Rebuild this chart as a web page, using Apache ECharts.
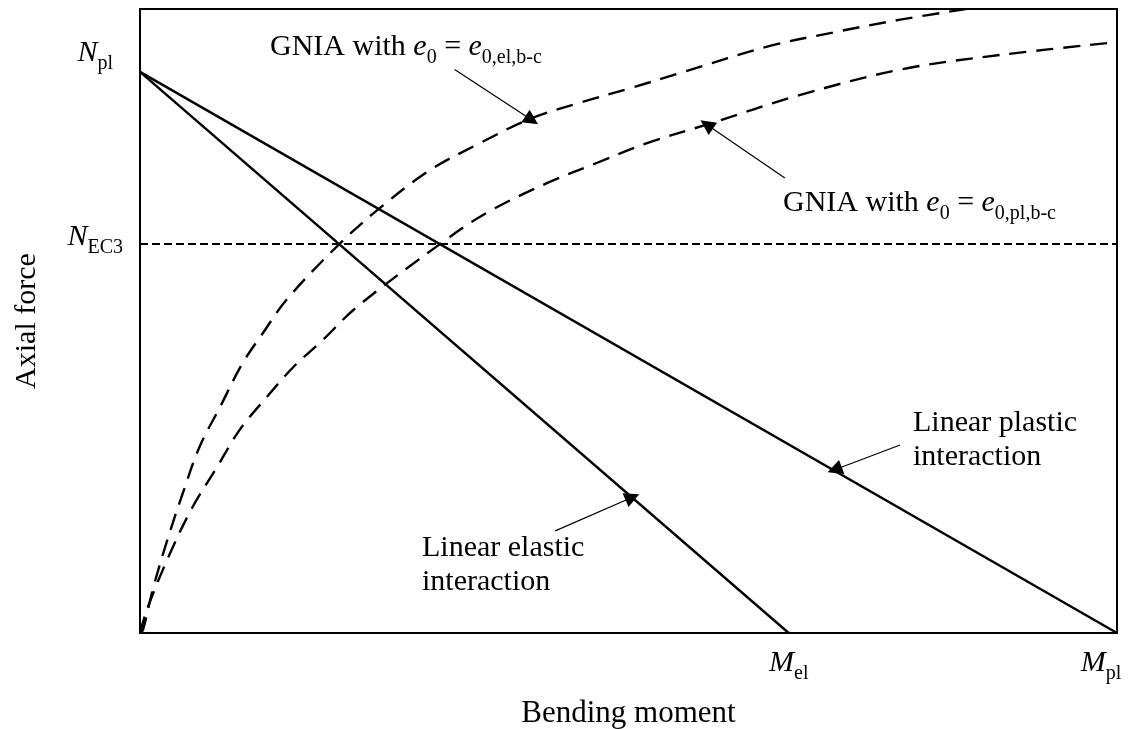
<!DOCTYPE html>
<html>
<head>
<meta charset="utf-8">
<script src="https://cdn.jsdelivr.net/npm/echarts@6/dist/echarts.min.js"></script>
<style>
  html, body { margin: 0; padding: 0; background: #fff; }
  #chart { width: 1130px; height: 729px; }
</style>
</head>
<body>
<div id="chart"></div>
<script>
// Normalised resistances (M / Mpl, N / Npl)
const Mpl = 1.0;
const Mel = 0.664;
const Npl = 1.0;
const NEC3 = 0.693;

// Linear interaction lines and the EC3 buckling resistance level
const elasticLine = [[0, Npl], [Mel, 0]];
const plasticLine = [[0, Npl], [Mpl, 0]];
const ec3Line = [[0, NEC3], [Mpl, NEC3]];

// GNIA load paths for the two imperfection amplitudes
const gniaEl = [
  [0, 0], [0.003, 0.005], [0.013, 0.077], [0.028, 0.166], [0.044, 0.250],
  [0.061, 0.332], [0.082, 0.403], [0.105, 0.481], [0.126, 0.535], [0.150, 0.594],
  [0.204, 0.693], [0.246, 0.758], [0.297, 0.825], [0.348, 0.873], [0.399, 0.916],
  [0.450, 0.945], [0.502, 0.971], [0.553, 0.998], [0.642, 1.045], [0.709, 1.070],
  [0.778, 1.093], [0.846, 1.112]
];
const gniaPl = [
  [0, 0], [0.008, 0.046], [0.031, 0.143], [0.054, 0.225], [0.079, 0.296],
  [0.102, 0.362], [0.130, 0.421], [0.157, 0.474], [0.187, 0.522], [0.222, 0.581],
  [0.307, 0.693], [0.355, 0.749], [0.417, 0.802], [0.468, 0.838], [0.519, 0.873],
  [0.580, 0.906], [0.676, 0.959], [0.778, 1.004], [0.880, 1.030], [1.000, 1.053]
];

// Annotation arrows: [tail, head]
const arrowGniaEl = [[0.322, 1.004], [0.401, 0.914]];
const arrowGniaPl = [[0.660, 0.811], [0.580, 0.906]];
const arrowElastic = [[0.425, 0.182], [0.504, 0.242]];
const arrowPlastic = [[0.778, 0.335], [0.711, 0.291]];

const FONT = '"Liberation Serif", "Times New Roman", serif';

// Rich text styles: upright text, italic symbol, lowered subscript
const richBase = {
  t: { fontFamily: FONT, fontSize: 30, lineHeight: 30, color: '#000' },
  e: { fontFamily: FONT, fontSize: 30, lineHeight: 30, fontStyle: 'italic', color: '#000' },
  s: { fontFamily: FONT, fontSize: 20, height: 8, verticalAlign: 'bottom', color: '#000' }
};

const chart = echarts.init(document.getElementById('chart'), null, { renderer: 'canvas' });

const option = {
  backgroundColor: '#fff',
  animation: false,
  grid: {
    left: 140, right: 13, top: 9, bottom: 96,
    containLabel: false, outerBoundsMode: 'none',
    show: true, borderColor: '#000', borderWidth: 2, backgroundColor: 'transparent'
  },
  xAxis: {
    type: 'value', min: 0, max: Mpl,
    axisLine: { show: false }, axisTick: { show: false }, splitLine: { show: false },
    name: 'Bending moment', nameLocation: 'middle', nameGap: 65,
    nameTextStyle: { fontFamily: FONT, fontSize: 31, color: '#000' },
    axisLabel: {
      customValues: [Mel, Mpl],
      margin: 15,
      hideOverlap: false,
      formatter: function (v) {
        if (Math.abs(v - Mel) < 1e-6) return '{e|M}{s|el}';
        return '{e|M}{sr|pl}';
      },
      rich: Object.assign({}, richBase, {
        sr: { fontFamily: FONT, fontSize: 20, height: 8, verticalAlign: 'bottom', color: '#000', padding: [0, 32, 0, 0] }
      })
    }
  },
  yAxis: {
    type: 'value', min: 0, max: 1.112,
    axisLine: { show: false }, axisTick: { show: false }, splitLine: { show: false },
    name: 'Axial force', nameLocation: 'middle', nameGap: 98, nameRotate: 90,
    nameTextStyle: { fontFamily: FONT, fontSize: 30, color: '#000' },
    axisLabel: {
      customValues: [NEC3, Npl],
      margin: 17,
      hideOverlap: false,
      formatter: function (v) {
        if (Math.abs(v - Npl) < 1e-6) return '{e|N}{sr|pl}\n{g1| }';
        return '{e|N}{s|EC3}\n{g2| }';
      },
      rich: Object.assign({}, richBase, {
        sr: { fontFamily: FONT, fontSize: 20, height: 8, verticalAlign: 'bottom', color: '#000', padding: [0, 10, 0, 0] },
        g1: { fontSize: 4, lineHeight: 38 },
        g2: { fontSize: 4, lineHeight: 14 }
      })
    }
  },
  series: [
    {
      name: 'Linear elastic interaction', type: 'line', data: elasticLine,
      showSymbol: false, lineStyle: { color: '#000', width: 2.4 }
    },
    {
      name: 'Linear plastic interaction', type: 'line', data: plasticLine,
      showSymbol: false, lineStyle: { color: '#000', width: 2.4 }
    },
    {
      name: 'N_EC3', type: 'line', data: ec3Line,
      showSymbol: false, lineStyle: { color: '#000', width: 2, type: [8, 4] }
    },
    {
      name: 'GNIA el', type: 'line', data: gniaEl, smooth: 0.35,
      showSymbol: false, lineStyle: { color: '#000', width: 2.4, type: [17, 10] }
    },
    {
      name: 'GNIA pl', type: 'line', data: gniaPl, smooth: 0.35,
      showSymbol: false, lineStyle: { color: '#000', width: 2.4, type: [17, 10] }
    },
    {
      name: 'arrows', type: 'lines', coordinateSystem: 'cartesian2d',
      symbol: ['none', 'triangle'], symbolSize: 15,
      lineStyle: { color: '#000', width: 1.2, opacity: 1 },
      itemStyle: { color: '#000' },
      data: [
        { coords: arrowGniaEl }, { coords: arrowGniaPl },
        { coords: arrowElastic }, { coords: arrowPlastic }
      ]
    }
  ],
  graphic: [
    {
      type: 'text', left: 270, top: 32,
      style: {
        text: '{t|GNIA with }{e|e}{s|0}{t| = }{e|e}{s|0,el,b-c}',
        rich: richBase
      }
    },
    {
      type: 'text', left: 783, top: 188,
      style: {
        text: '{t|GNIA with }{e|e}{s|0}{t| = }{e|e}{s|0,pl,b-c}',
        rich: richBase
      }
    },
    {
      type: 'text', left: 422, top: 531,
      style: {
        text: 'Linear elastic\ninteraction',
        font: '30px ' + FONT, lineHeight: 34, fill: '#000'
      }
    },
    {
      type: 'text', left: 913, top: 406,
      style: {
        text: 'Linear plastic\ninteraction',
        font: '30px ' + FONT, lineHeight: 34, fill: '#000'
      }
    }
  ]
};

chart.setOption(option);
</script>
</body>
</html>
